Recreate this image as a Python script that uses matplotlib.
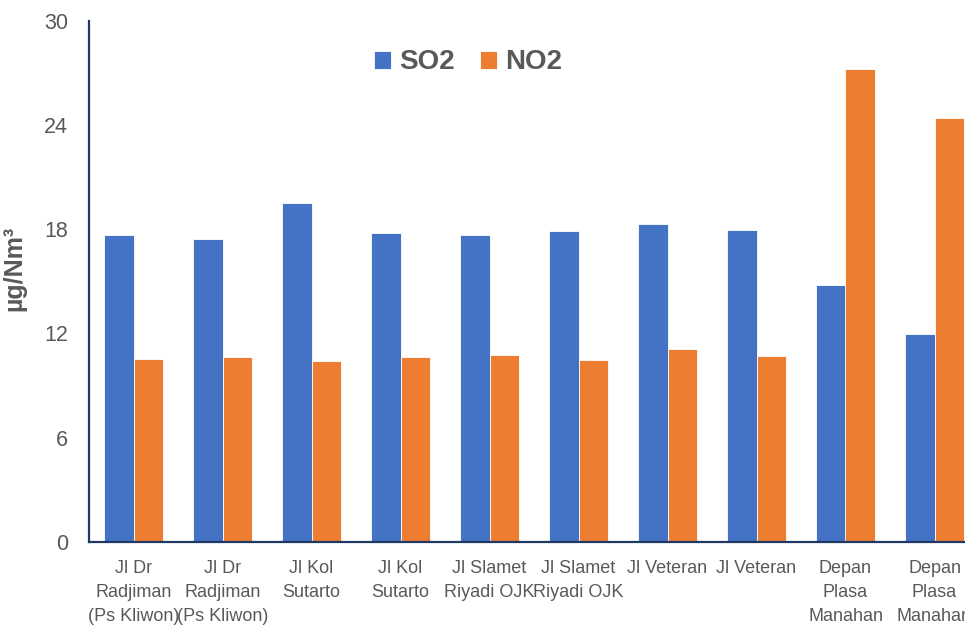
import matplotlib
matplotlib.use("Agg")
import matplotlib.pyplot as plt
import numpy as np

plt.rcParams['font.family'] = ['Liberation Sans', 'DejaVu Sans']

locations = [
    "Jl Dr\nRadjiman\n(Ps Kliwon)",
    "Jl Dr\nRadjiman\n(Ps Kliwon)",
    "Jl Kol\nSutarto",
    "Jl Kol\nSutarto",
    "Jl Slamet\nRiyadi OJK",
    "Jl Slamet\nRiyadi OJK",
    "Jl Veteran",
    "Jl Veteran",
    "Depan\nPlasa\nManahan",
    "Depan\nPlasa\nManahan",
]
so2 = [17.66, 17.42, 19.48, 17.77, 17.66, 17.88, 18.29, 17.94, 14.78, 11.94]
no2 = [10.52, 10.63, 10.44, 10.63, 10.77, 10.50, 11.08, 10.71, 27.21, 24.37]
yticks = [0, 6, 12, 18, 24, 30]

blue = "#4472C4"
orange = "#ED7D31"
grey = "#595959"
navy = "#1F3864"

fig = plt.figure(figsize=(9.65, 6.3), dpi=100)
ax = fig.add_axes([89 / 965, 88 / 630, 890 / 965, 521.4 / 630])

x = np.arange(len(locations))
w = 0.33
ax.bar(x - w / 2, so2, w, color=blue, edgecolor="white", linewidth=0.6, label="SO2")
ax.bar(x + w / 2, no2, w, color=orange, edgecolor="white", linewidth=0.6, label="NO2")

ax.set_xlim(-0.5, len(locations) - 0.5)
ax.set_ylim(0, 30)
ax.set_yticks(yticks)
ax.set_xticks(x)
ax.set_xticklabels(locations, linespacing=1.55, fontsize=13)

ax.tick_params(axis="both", length=0, labelcolor=grey)
ax.tick_params(axis="y", pad=15, labelsize=15.5)
ax.tick_params(axis="x", pad=13)

for side in ("top", "right"):
    ax.spines[side].set_visible(False)
for side in ("left", "bottom"):
    ax.spines[side].set_color(navy)
    ax.spines[side].set_linewidth(1.6)

ax.set_ylabel("µg/Nm³", fontsize=18, fontweight="bold", color=grey)
ax.yaxis.set_label_coords(-0.07, 0.525)

leg = ax.legend(loc="center", bbox_to_anchor=(0.426, 0.92), ncol=2, frameon=False,
                handlelength=0.62, handleheight=0.62, handletextpad=0.3,
                columnspacing=0.9, prop={"size": 20, "weight": "bold"})
for t in leg.get_texts():
    t.set_color(grey)

fig.savefig("out.png", dpi=100)
